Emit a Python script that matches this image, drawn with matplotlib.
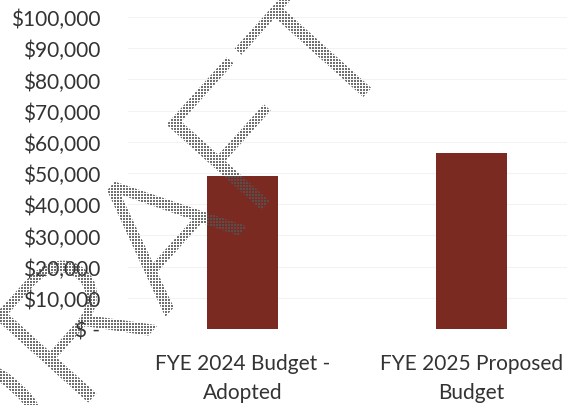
import numpy as np
import matplotlib
matplotlib.use("Agg")
import matplotlib.pyplot as plt
from matplotlib.textpath import TextPath
from matplotlib.font_manager import FontProperties
from matplotlib.patches import PathPatch
from matplotlib.transforms import Affine2D, IdentityTransform
from matplotlib.ticker import FuncFormatter

# budget comparison
categories = ["FYE 2024 Budget -\nAdopted", "FYE 2025 Proposed\nBudget"]
amounts = [49000, 56400]
y_ticks = list(range(0, 100001, 10000))

bar_color = "#7b2a21"
text_color = "#333333"

W, H = 567, 406
fig = plt.figure(figsize=(W / 100, H / 100), dpi=100)
plt.rcParams['font.family'] = ['Lato', 'DejaVu Sans']

# plot area runs past the right edge of the page
ax = fig.add_axes([128 / W, 76 / H, 458 / W, 312 / H])

x = np.arange(len(categories))
ax.bar(x, amounts, width=0.31, color=bar_color, zorder=2)
ax.set_xlim(-0.5, 1.5)
ax.set_ylim(0, 100000)
ax.set_yticks(y_ticks)
ax.yaxis.set_major_formatter(
    FuncFormatter(lambda v, p: "$ -" if v == 0 else "${:,.0f}".format(v)))
ax.set_xticks(x)
ax.set_xticklabels(categories, linespacing=1.6)
ax.tick_params(length=0, labelcolor=text_color)
ax.tick_params(axis='y', pad=20, labelsize=15)
ax.tick_params(axis='x', pad=17, labelsize=15)
for s in ax.spines.values():
    s.set_visible(False)
ax.grid(axis='y', color='#f3f3f3', lw=0.8, zorder=0)
ax.set_axisbelow(True)

# "DRAFT" stamp, halftone grey, drawn over everything
wm_font = FontProperties(family=['Roboto', 'Lato'], weight=300)
wm_path = TextPath((0, 0), "DRAFT", size=180, prop=wm_font)
wm_tf = Affine2D().scale(1.14, 1.0).rotate_deg(48).translate(-14, -111)
wm_patch = PathPatch(wm_path, transform=wm_tf + IdentityTransform(),
                     facecolor='none', edgecolor='none')

ii, jj = np.mgrid[0:H, 0:W]
dots = (ii % 3 != 2) & (jj % 3 != 2)
halftone = np.zeros((H, W, 4))
halftone[..., :3] = 85 / 255
halftone[..., 3] = np.where(dots, 0.85, 0.0)
im = fig.figimage(halftone, xo=0, yo=0, origin='upper', zorder=10)
im.set_clip_path(wm_patch)

fig.savefig("out.png", dpi=100)
